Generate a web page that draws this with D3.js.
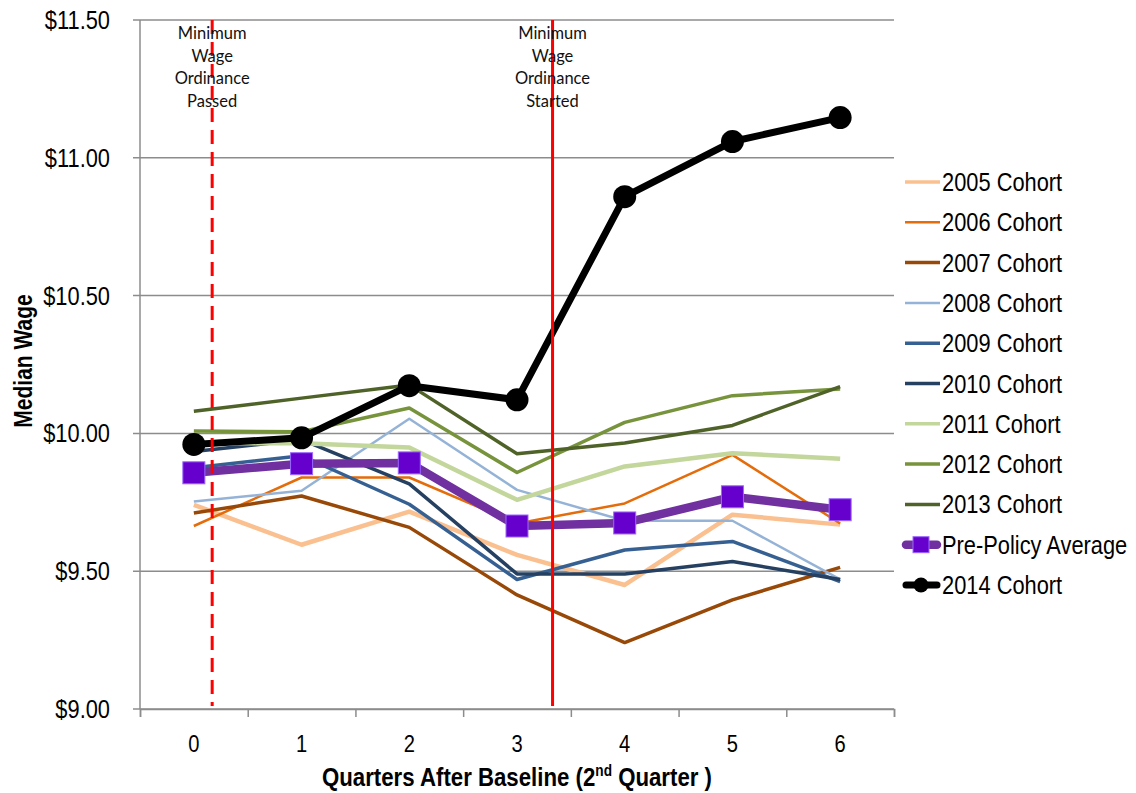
<!DOCTYPE html>
<html>
<head>
<meta charset="utf-8">
<script src="https://cdn.jsdelivr.net/npm/d3@7"></script>
<style>
  html, body { margin: 0; padding: 0; background: #ffffff; }
  svg { display: block; }
</style>
</head>
<body>
<svg id="chart" width="1136" height="793"></svg>
<script>
// ---- data -------------------------------------------------------------
const quarters = [0, 1, 2, 3, 4, 5, 6];

const cohort2005 = [9.741, 9.596, 9.716, 9.559, 9.450, 9.705, 9.669];
const cohort2006 = [9.664, 9.840, 9.840, 9.673, 9.746, 9.922, 9.673];
const cohort2007 = [9.711, 9.773, 9.659, 9.414, 9.241, 9.396, 9.514];
const cohort2008 = [9.753, 9.792, 10.053, 9.795, 9.683, 9.683, 9.470];
const cohort2009 = [9.875, 9.919, 9.743, 9.470, 9.577, 9.608, 9.462];
const cohort2010 = [9.934, 9.977, 9.817, 9.490, 9.490, 9.535, 9.470];
const cohort2011 = [9.965, 9.964, 9.949, 9.759, 9.880, 9.928, 9.908];
const cohort2012 = [10.009, 10.006, 10.092, 9.858, 10.040, 10.137, 10.161];
const cohort2013 = [10.080, 10.128, 10.176, 9.926, 9.965, 10.029, 10.170];
const prePolicyAverage = [9.857, 9.890, 9.893, 9.664, 9.675, 9.770, 9.723];
const cohort2014 = [9.960, 9.984, 10.173, 10.122, 10.859, 11.059, 11.146];

const seriesNames = [
  "2005 Cohort", "2006 Cohort", "2007 Cohort", "2008 Cohort", "2009 Cohort",
  "2010 Cohort", "2011 Cohort", "2012 Cohort", "2013 Cohort",
  "Pre-Policy Average", "2014 Cohort"
];
const seriesValues = [
  cohort2005, cohort2006, cohort2007, cohort2008, cohort2009,
  cohort2010, cohort2011, cohort2012, cohort2013,
  prePolicyAverage, cohort2014
];

const yTickValues = [9.0, 9.5, 10.0, 10.5, 11.0, 11.5];
const xTickLabels = ["0", "1", "2", "3", "4", "5", "6"];

// policy milestones, measured in quarters after baseline
const milestoneNames = ["Passed", "Started"];
const milestoneQuarters = [0.17, 3.33];

// ---- styling ----------------------------------------------------------
const styles = [
  { color: "#fac090", width: 4.5 },
  { color: "#e46c0a", width: 2.5 },
  { color: "#984807", width: 3.5 },
  { color: "#95b3d7", width: 2.5 },
  { color: "#376092", width: 3.5 },
  { color: "#254061", width: 3.5 },
  { color: "#c3d69b", width: 4.5 },
  { color: "#77933c", width: 3.5 },
  { color: "#4f6228", width: 3.5 },
  { color: "#7030a0", width: 8.5, marker: "square", markerFill: "#6600cc", markerStroke: "#9b66ff" },
  { color: "#000000", width: 7, marker: "circle", markerFill: "#000000", markerStroke: "#000000" }
];

const NARROW = 0.84;               // horizontal squeeze giving the narrow sans look
const FONT = "'Liberation Sans', Arial, sans-serif";

const svg = d3.select("#chart");
const plot = { left: 140, right: 894, top: 20, bottom: 709 };

const x = d3.scaleLinear().domain([-0.5, 6.5]).range([plot.left, plot.right]);
const y = d3.scaleLinear().domain([9.0, 11.5]).range([plot.bottom, plot.top]);

// text helper: places a horizontally condensed label
function narrowText(parent, px, py, str, anchor, size, weight) {
  return parent.append("text")
    .attr("transform", `translate(${px},${py}) scale(${NARROW},1)`)
    .attr("text-anchor", anchor)
    .attr("font-family", FONT)
    .attr("font-size", size)
    .attr("font-weight", weight || "normal")
    .attr("fill", "#000")
    .text(str);
}

// ---- grid and axes ----------------------------------------------------
const grid = svg.append("g");
grid.selectAll("line.grid")
  .data(yTickValues)
  .join("line")
  .attr("class", "grid")
  .attr("x1", plot.left - 7)
  .attr("x2", plot.right)
  .attr("y1", d => y(d))
  .attr("y2", d => y(d))
  .attr("stroke", "#8c8c8c")
  .attr("stroke-width", 1.5);

// left axis line
grid.append("line")
  .attr("x1", plot.left).attr("x2", plot.left)
  .attr("y1", y(11.5)).attr("y2", y(9.0))
  .attr("stroke", "#8c8c8c").attr("stroke-width", 1.5);

// bottom axis with ticks at category boundaries
const xAxis = d3.axisBottom(x)
  .tickValues(d3.range(-0.5, 6.51, 1))
  .tickSize(8)
  .tickFormat("");
const xAxisG = svg.append("g")
  .attr("transform", `translate(0,${plot.bottom})`)
  .call(xAxis);
xAxisG.select(".domain").attr("stroke", "#8c8c8c").attr("stroke-width", 1.5);
xAxisG.selectAll(".tick line").attr("stroke", "#8c8c8c").attr("stroke-width", 1.5);

// y tick labels
const fmt = d3.format("$.2f");
yTickValues.forEach(v => {
  narrowText(svg, 110, y(v) + 9, fmt(v), "end", 26);
});

// x tick labels
quarters.forEach((q, i) => {
  narrowText(svg, x(q), 752, xTickLabels[i], "middle", 24);
});

// axis titles
const xt = svg.append("text")
  .attr("transform", `translate(${x(3)},786) scale(0.855,1)`)
  .attr("text-anchor", "middle")
  .attr("font-family", FONT)
  .attr("font-size", 26)
  .attr("font-weight", "bold");
xt.append("tspan").text("Quarters After Baseline (2");
xt.append("tspan").attr("dy", -10).attr("font-size", 16).text("nd");
xt.append("tspan").attr("dy", 10).text(" Quarter )");

svg.append("text")
  .attr("transform", `translate(32,${(295 + 427) / 2}) rotate(-90) scale(${NARROW},1)`)
  .attr("text-anchor", "middle")
  .attr("font-family", FONT)
  .attr("font-size", 25)
  .attr("font-weight", "bold")
  .text("Median Wage");

// ---- series -----------------------------------------------------------
const line = d3.line()
  .x((d, i) => x(quarters[i]))
  .y(d => y(d));

const seriesG = svg.append("g");
seriesValues.forEach((vals, k) => {
  const st = styles[k];
  seriesG.append("path")
    .datum(vals)
    .attr("d", line)
    .attr("fill", "none")
    .attr("stroke", st.color)
    .attr("stroke-width", st.width)
    .attr("stroke-linejoin", "round")
    .attr("stroke-linecap", "butt");

  if (st.marker === "square") {
    seriesG.selectAll(null)
      .data(vals)
      .join("rect")
      .attr("x", (d, i) => x(quarters[i]) - 11)
      .attr("y", d => y(d) - 11)
      .attr("width", 22)
      .attr("height", 22)
      .attr("fill", st.markerFill)
      .attr("stroke", st.markerStroke)
      .attr("stroke-width", 1);
  } else if (st.marker === "circle") {
    seriesG.selectAll(null)
      .data(vals)
      .join("circle")
      .attr("cx", (d, i) => x(quarters[i]))
      .attr("cy", d => y(d))
      .attr("r", 11.5)
      .attr("fill", st.markerFill);
  }
});

// ---- policy milestone lines ---------------------------------------------
milestoneQuarters.forEach((q, i) => {
  const px = x(q);
  svg.append("line")
    .attr("x1", px).attr("x2", px)
    .attr("y1", y(11.5)).attr("y2", y(9.0) - 3)
    .attr("stroke", "#ff0000")
    .attr("stroke-width", 3)
    .attr("stroke-dasharray", i === 0 ? "14,8" : null);

  const lines = ["Minimum", "Wage", "Ordinance", milestoneNames[i]];
  const t = svg.append("text")
    .attr("text-anchor", "middle")
    .attr("font-family", "Lato, 'Open Sans', sans-serif")
    .attr("font-size", 16.5)
    .attr("fill", "#111");
  lines.forEach((s, j) => {
    t.append("tspan")
      .attr("x", px)
      .attr("y", 39 + j * 22.7)
      .text(s);
  });
});

// ---- legend -----------------------------------------------------------
const legend = svg.append("g");
seriesNames.forEach((name, k) => {
  const st = styles[k];
  const ly = 182 + k * 40.3;
  const g = legend.append("g");
  g.append("line")
    .attr("x1", st.marker ? 906 : 905)
    .attr("x2", st.marker ? 937 : 940)
    .attr("y1", ly).attr("y2", ly)
    .attr("stroke", st.color)
    .attr("stroke-width", st.marker ? st.width : Math.min(st.width, 3.5))
    .attr("stroke-linecap", st.marker ? "round" : "butt");
  if (st.marker === "square") {
    g.append("rect")
      .attr("x", 921 - 8).attr("y", ly - 8)
      .attr("width", 16).attr("height", 16)
      .attr("fill", st.markerFill)
      .attr("stroke", st.markerStroke).attr("stroke-width", 1);
  } else if (st.marker === "circle") {
    g.append("circle")
      .attr("cx", 921).attr("cy", ly).attr("r", 7.5)
      .attr("fill", st.markerFill);
  }
  narrowText(g, 942, ly + 9, name, "start", 26);
});
</script>
</body>
</html>
